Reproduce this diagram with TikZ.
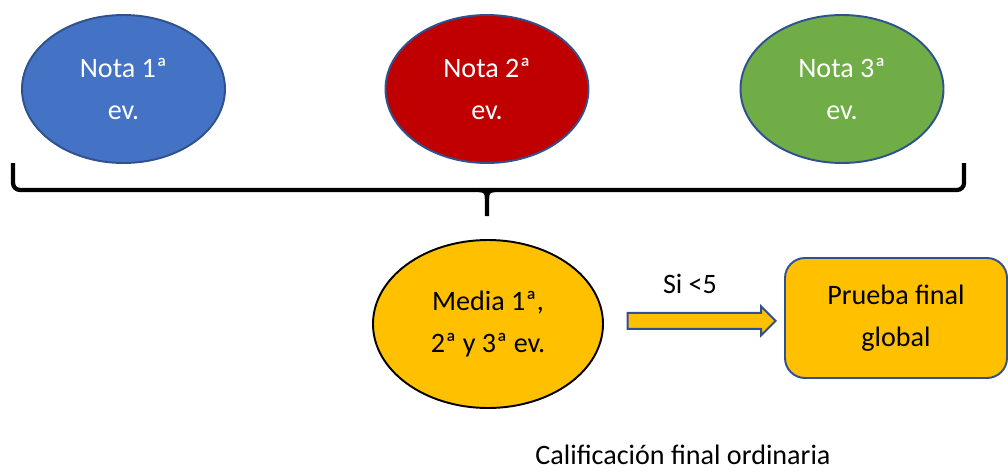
\documentclass[tikz,border=0pt]{standalone}
\usepackage{fontspec}
\setmainfont{Carlito}
\usepackage{xcolor}
\usetikzlibrary{shapes.geometric, shapes.arrows, arrows, positioning}

\definecolor{azulnota}{HTML}{4472C4}
\definecolor{rojonota}{HTML}{C00000}
\definecolor{verdenota}{HTML}{70AD47}
\definecolor{oro}{HTML}{FFC000}
\definecolor{borde}{HTML}{2F528F}

\begin{document}
\begin{tikzpicture}[node distance=4.7cm]
    \tikzstyle{texto} = [font=\fontsize{16}{23.5}\selectfont, align=center, inner sep=0pt]
    \tikzstyle{nota} = [ellipse, texto, minimum width=4.06cm, minimum height=2.96cm, draw=borde, line width=1.1pt, text=white]
    \tikzstyle{media} = [ellipse, texto, minimum width=4.6cm, minimum height=3.36cm, draw=black, line width=1.1pt, fill=oro]
    \tikzstyle{prueba} = [rectangle, rounded corners=0.4cm, texto, minimum width=4.44cm, minimum height=2.4cm, draw=borde, line width=1.1pt, fill=oro]
    \tikzstyle{flecha} = [single arrow, minimum height=2.96cm, minimum width=0.54cm, single arrow head extend=0.13cm, single arrow tip angle=90, inner xsep=0pt, inner ysep=0.14cm, fill=oro, draw=borde, line width=1.1pt]
    \tikzstyle{llave} = [line width=2.4pt, black]

    \useasboundingbox (-9.74,1.78) rectangle (10.42,-7.66);

    \node (nota2) [nota, fill=rojonota] {Nota 2ª\\ev.};
    \node (nota1) [nota, fill=azulnota, left of=nota2, xshift=-2.57cm] {Nota 1ª\\ev.};
    \node (nota3) [nota, fill=verdenota, right of=nota2, xshift=2.4cm] {Nota 3ª\\ev.};

    \node (media) [media, below of=nota2, xshift=0.02cm] {Media 1ª,\\2ª y 3ª ev.};
    \node (prueba) [prueba, right of=media, xshift=3.46cm, yshift=0.12cm] {Prueba final\\global};

    % llave bajo las tres notas
    \draw [llave, rounded corners=4pt] (-9.48,-1.48) -- (-9.48,-2.02) -- (9.54,-2.02) -- (9.54,-1.48);
    \draw [llave] (-0.16,-2.02) .. controls (-0.03,-2.02) and (0,-2.08) .. (0,-2.2) -- (0,-2.54);
    \draw [llave] (0.16,-2.02) .. controls (0.03,-2.02) and (0,-2.08) .. (0,-2.2);

    \path (media) -- node[flecha, pos=0.52] (flecha) {} (prueba);
    \node (si) [texto, anchor=base] at (4.06,-4.08) {Si <5};

    \node (final) [texto, anchor=base] at (3.92,-7.5) {Calificación final ordinaria};
\end{tikzpicture}
\end{document}
